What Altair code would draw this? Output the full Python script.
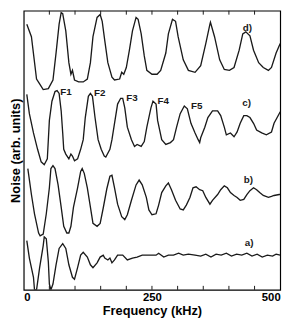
import altair as alt
import pandas as pd

# ---- data (frequency in kHz, noise in arb. units) ----
d_freq = [6, 15, 25, 31, 38, 48, 57, 63, 69, 73, 76, 82, 88, 92, 95, 99, 107, 116, 124, 130, 135, 143, 149, 153, 158, 164, 172, 177, 187, 191, 195, 200, 206, 212, 219, 223, 229, 235, 240, 250, 260, 267, 277, 282, 290, 296, 301, 311, 321, 334, 345, 355, 363, 364, 372, 382, 391, 401, 410, 420, 427, 433, 441, 448, 458, 467, 477, 483, 492, 500]
d_noise = [276, 263, 219, 214, 208, 209, 218, 246, 276, 288, 287, 269, 236, 224, 228, 218, 216, 216, 219, 236, 263, 283, 286, 279, 259, 236, 221, 218, 219, 226, 224, 231, 249, 269, 283, 281, 266, 243, 228, 224, 224, 228, 246, 266, 281, 279, 263, 239, 228, 226, 233, 256, 276, 278, 263, 239, 229, 228, 231, 249, 266, 268, 264, 249, 236, 231, 228, 231, 246, 256]

c_freq = [6, 11, 19, 27, 34, 40, 46, 48, 50, 55, 61, 65, 69, 73, 76, 78, 82, 88, 92, 95, 99, 105, 111, 116, 120, 126, 130, 134, 139, 145, 151, 157, 160, 168, 172, 177, 183, 189, 193, 197, 202, 210, 216, 221, 229, 235, 240, 248, 252, 258, 261, 269, 277, 286, 292, 298, 305, 313, 319, 326, 334, 340, 343, 345, 353, 359, 368, 378, 384, 391, 395, 403, 410, 416, 422, 429, 435, 441, 448, 454, 464, 473, 483, 488, 498, 500]
c_noise = [203, 183, 163, 146, 133, 130, 136, 156, 176, 196, 206, 207, 204, 186, 163, 146, 141, 136, 141, 139, 134, 136, 146, 156, 179, 201, 204, 201, 179, 156, 146, 139, 138, 146, 156, 173, 193, 199, 199, 189, 169, 156, 149, 151, 149, 154, 169, 189, 196, 193, 176, 156, 151, 153, 156, 169, 183, 191, 188, 173, 163, 156, 153, 158, 169, 179, 186, 186, 181, 169, 161, 163, 159, 164, 173, 181, 181, 179, 173, 166, 163, 161, 164, 173, 183, 185]

b_freq = [8, 15, 21, 29, 32, 38, 44, 50, 53, 57, 61, 67, 73, 78, 84, 88, 92, 97, 105, 111, 114, 118, 124, 130, 135, 143, 149, 155, 162, 168, 172, 177, 183, 191, 197, 202, 210, 219, 225, 231, 239, 244, 250, 258, 263, 269, 277, 282, 288, 296, 305, 311, 317, 324, 330, 336, 343, 349, 355, 363, 368, 378, 384, 391, 397, 403, 410, 416, 422, 429, 435, 441, 448, 454, 460, 467, 477, 483, 488, 498, 500]
b_noise = [126, 99, 79, 59, 56, 58, 79, 106, 126, 129, 126, 109, 86, 66, 59, 59, 66, 86, 106, 123, 126, 121, 106, 86, 69, 66, 69, 85, 105, 118, 119, 106, 89, 76, 73, 78, 93, 109, 114, 109, 96, 83, 78, 79, 88, 101, 108, 111, 104, 93, 84, 83, 88, 96, 106, 107, 104, 103, 96, 89, 93, 99, 104, 108, 106, 101, 98, 96, 93, 94, 99, 103, 106, 104, 101, 98, 96, 97, 98, 99, 99]

a_freq = [6, 11, 19, 21, 25, 31, 38, 40, 44, 48, 50, 53, 57, 63, 69, 76, 82, 88, 95, 99, 105, 111, 116, 124, 130, 135, 143, 149, 155, 158, 164, 168, 172, 177, 183, 193, 202, 212, 221, 231, 244, 258, 263, 273, 282, 292, 302, 311, 321, 334, 345, 355, 365, 375, 385, 395, 405, 415, 425, 435, 445, 455, 465, 475, 485, 492, 500]
a_noise = [51, 33, 13, 0, 0, 23, 46, 55, 53, 29, 6, 0, 6, 26, 43, 48, 43, 26, 13, 11, 23, 36, 39, 34, 26, 23, 28, 34, 36, 33, 31, 33, 28, 31, 36, 36, 31, 33, 34, 36, 36, 36, 38, 34, 36, 36, 38, 36, 37, 36, 35, 37, 34, 37, 36, 38, 35, 37, 36, 38, 35, 37, 34, 36, 35, 37, 36]

label_text = ["F1", "F2", "F3", "F4", "F5", "a)", "b)", "c)", "d)"]
label_freq = [71, 137, 200, 261, 326, 431, 429, 426, 427]
label_noise = [206, 204, 199, 196, 191, 49, 114, 194, 272]

tick_freq = [50, 100, 150, 200, 250, 300, 350, 400, 450]
x_label_values = [0, 250, 500]

W, H = 261, 284
FONT = "Liberation Sans"
INK = "#1a1a1a"

rows = []
for name, fr, nz in [("a", a_freq, a_noise), ("b", b_freq, b_noise),
                     ("c", c_freq, c_noise), ("d", d_freq, d_noise)]:
    for f, n in zip(fr, nz):
        rows.append({"trace": name, "freq": f, "noise": n})
df = pd.DataFrame(rows)
labels_df = pd.DataFrame({"text": label_text, "freq": label_freq, "noise": label_noise})
ticks_df = pd.DataFrame({"freq": tick_freq})

xs = alt.Scale(domain=[0, 500], nice=False, zero=False)
ys = alt.Scale(domain=[0, 290], nice=False, zero=False)

x_axis = alt.Axis(values=x_label_values, ticks=False, domain=False, grid=False,
                  labelFont=FONT, labelFontSize=11.5, labelFontWeight="bold",
                  labelColor="black", labelPadding=2,
                  title="Frequency (kHz)", titleFont=FONT, titleFontSize=13,
                  titleFontWeight="bold", titleColor="black", titlePadding=2)
y_axis = alt.Axis(labels=False, ticks=False, domain=False, grid=False,
                  title="Noise (arb. units)", titleFont=FONT, titleFontSize=13,
                  titleFontWeight="bold", titleColor="black", titlePadding=1)

X = alt.X("freq:Q", scale=xs, axis=x_axis, title="Frequency (kHz)")
Y = alt.Y("noise:Q", scale=ys, axis=y_axis, title="Noise (arb. units)")

lines = alt.Chart(df).mark_line(color=INK, strokeWidth=1.35, clip=True).encode(
    x=X, y=Y, detail="trace:N",
)

ticks_bottom = alt.Chart(ticks_df).mark_rule(color=INK, strokeWidth=1).encode(
    x=X, y=alt.value(H), y2=alt.value(H - 4),
)
ticks_top = alt.Chart(ticks_df).mark_rule(color=INK, strokeWidth=1).encode(
    x=X, y=alt.value(0), y2=alt.value(4),
)

texts = alt.Chart(labels_df).mark_text(
    align="left", baseline="middle", font=FONT, fontSize=10, fontWeight="bold", color=INK
).encode(x=X, y=Y, text="text:N")

chart = alt.layer(lines, ticks_bottom, ticks_top, texts).properties(
    width=W, height=H, autosize="none",
    padding={"left": 16, "top": 0, "right": 12, "bottom": 30},
    background="white",
).configure_view(stroke="black", strokeWidth=1.2)

chart.save("out.html", embed_options={"renderer": "svg", "actions": False})
